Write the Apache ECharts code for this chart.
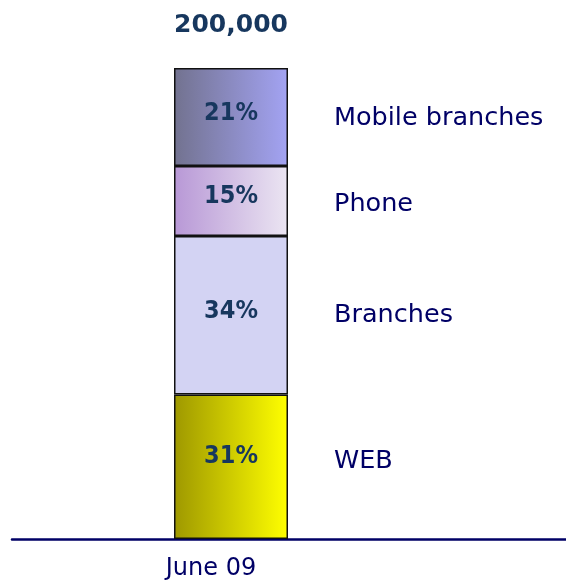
<!DOCTYPE html>
<html>
<head>
<meta charset="utf-8">
<script src="https://cdn.jsdelivr.net/npm/echarts@6/dist/echarts.min.js"></script>
<style>
  html, body { margin: 0; padding: 0; background: #ffffff; }
  #chart { width: 566px; height: 582px; }
</style>
</head>
<body>
<div id="chart"></div>
<script>
// Channel mix for the period, stacked bottom to top
const categories = ['June 09'];
const channelNames = ['WEB', 'Branches', 'Phone', 'Mobile branches'];
const channelShares = [31, 34, 15, 21];
const totalLabel = '200,000';

// Horizontal fills for each channel (left colour, right colour)
const fills = [
  ['#9e9800', '#ffff00'],
  ['#d3d3f3', '#d3d3f3'],
  ['#b898d6', '#ebe5f2'],
  ['#72728f', '#a3a3f3']
];
const pctOffsets = [[0, -10], [0, -4], [0, -4], [0, -3]];
const nameOffsets = [[0, -5], [0, 0], [0, 3], [0, 1]];

const FONT = 'DejaVu Sans';
const FONT_NARROW = '"DejaVu Sans Condensed", "DejaVu Sans"';
const stackTotal = channelShares.reduce((a, b) => a + b, 0);

const chart = echarts.init(document.getElementById('chart'), null, { renderer: 'canvas' });

const barSeries = channelNames.map((name, i) => ({
  name: name,
  type: 'bar',
  stack: 'mix',
  xAxisIndex: 0,
  yAxisIndex: 0,
  barWidth: 114,
  data: [channelShares[i]],
  itemStyle: {
    color: new echarts.graphic.LinearGradient(0, 0, 1, 0, [
      { offset: 0, color: fills[i][0] },
      { offset: 1, color: fills[i][1] }
    ]),
    borderColor: '#111111',
    borderWidth: 1.5
  },
  label: {
    show: true,
    position: 'inside',
    formatter: '{c}%',
    fontFamily: FONT_NARROW,
    fontWeight: 'bold',
    fontSize: 25,
    color: '#17375e',
    offset: pctOffsets[i]
  },
  emphasis: { disabled: true },
  animation: false
}));

// Transparent twin stack carrying the channel names to the right of the bar
const nameSeries = channelNames.map((name, i) => ({
  name: name + ' label',
  type: 'bar',
  stack: 'names',
  xAxisIndex: 0,
  yAxisIndex: 0,
  barWidth: 114,
  barGap: '-100%',
  data: [channelShares[i]],
  itemStyle: { color: 'rgba(0,0,0,0)', borderWidth: 0 },
  label: {
    show: true,
    position: 'right',
    distance: 46,
    formatter: name,
    fontFamily: FONT,
    fontSize: 25.5,
    color: '#000066',
    offset: nameOffsets[i]
  },
  emphasis: { disabled: true },
  silent: true,
  animation: false
}));

// Zero-height cap on the stack that shows the total above the bar
const totalSeries = {
  name: 'Total',
  type: 'bar',
  stack: 'mix',
  xAxisIndex: 0,
  yAxisIndex: 0,
  barWidth: 114,
  data: [0],
  itemStyle: { color: 'rgba(0,0,0,0)', borderWidth: 0 },
  label: {
    show: true,
    position: 'top',
    distance: 30,
    formatter: totalLabel,
    fontFamily: FONT,
    fontWeight: 'bold',
    fontSize: 25,
    color: '#17375e'
  },
  silent: true,
  animation: false
};

chart.setOption({
  backgroundColor: '#ffffff',
  animation: false,
  grid: [
    { left: 12, width: 438, top: 68, bottom: 43, containLabel: false },
    { left: 12, right: 0, top: 68, bottom: 43, containLabel: false }
  ],
  xAxis: [
    {
      type: 'category',
      gridIndex: 0,
      data: categories,
      axisLine: { show: false },
      axisTick: { show: false },
      axisLabel: {
        fontFamily: FONT,
        fontSize: 24,
        color: '#000066',
        margin: 18,
        padding: [0, 40, 0, 0]
      }
    },
    {
      type: 'category',
      gridIndex: 1,
      data: categories,
      axisLine: { show: true, lineStyle: { color: '#000066', width: 2.5 } },
      axisTick: { show: false },
      axisLabel: { show: false }
    }
  ],
  yAxis: [
    {
      type: 'value',
      gridIndex: 0,
      min: 0,
      max: stackTotal,
      show: false,
      splitLine: { show: false }
    },
    {
      type: 'value',
      gridIndex: 1,
      min: 0,
      max: stackTotal,
      show: false,
      splitLine: { show: false }
    }
  ],
  series: [...barSeries, totalSeries, ...nameSeries]
});
</script>
</body>
</html>
